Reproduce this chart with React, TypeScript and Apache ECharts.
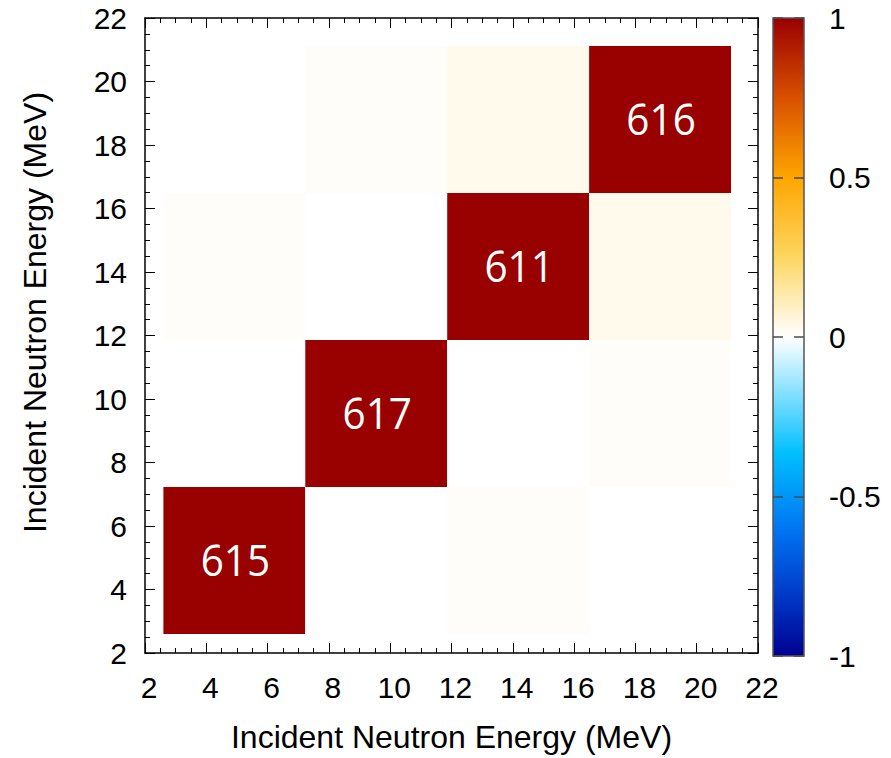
import React, { useEffect, useRef } from 'react';
import * as echarts from 'echarts';

// Energy bin edges (MeV), shared by both axes
const binEdges = [2.6, 7.23, 11.86, 16.49, 21.12];

// Correlation coefficients; rows are y bins (bottom to top), columns are x bins
const correlation = [
  [1, 0, 0.01, 0],
  [0, 1, 0, 0.01],
  [0.01, 0, 1, 0.03],
  [0, 0.01, 0.03, 1],
];

// Counts written on the diagonal cells
const diagonalCounts = [615, 617, 611, 616];

// Axis ranges
const energyRange = [2, 22];
const energyStep = 2;
const colorbarRange = [-1, 1];
const colorbarStep = 0.5;

// Diverging palette: value -> colour
const paletteStops: [number, string][] = [
  [-1, '#000090'],
  [-0.84, '#0030c0'],
  [-0.62, '#0070f0'],
  [-0.365, '#00bfff'],
  [0, '#ffffff'],
  [0.25, '#fdd660'],
  [0.5, '#ffa500'],
  [0.75, '#d85000'],
  [1, '#990000'],
];

const FONT = '"Liberation Sans", Arial, Helvetica, sans-serif';

function hexToRgb(h: string) {
  const n = parseInt(h.slice(1), 16);
  return [(n >> 16) & 255, (n >> 8) & 255, n & 255];
}

function colorAt(v: number) {
  const s = paletteStops;
  if (v <= s[0][0]) return s[0][1];
  if (v >= s[s.length - 1][0]) return s[s.length - 1][1];
  for (let i = 0; i < s.length - 1; i++) {
    const [v0, c0] = s[i];
    const [v1, c1] = s[i + 1];
    if (v >= v0 && v <= v1) {
      const t = (v - v0) / (v1 - v0);
      const a = hexToRgb(c0);
      const b = hexToRgb(c1);
      const m = a.map((x, k) => Math.round(x + (b[k] - x) * t));
      return `rgb(${m[0]},${m[1]},${m[2]})`;
    }
  }
  return '#ffffff';
}

export default function App() {
  const ref = useRef<HTMLDivElement>(null);

  useEffect(() => {
    if (!ref.current) return;
    const chart = echarts.init(ref.current, null, { renderer: 'svg' });

    const cells: any[] = [];
    const cellLabels: string[] = [];
    for (let r = 0; r < correlation.length; r++) {
      for (let c = 0; c < correlation[r].length; c++) {
        cells.push([binEdges[c], binEdges[c + 1], binEdges[r], binEdges[r + 1], correlation[r][c]]);
        cellLabels.push(r === c ? String(diagonalCounts[r]) : '');
      }
    }

    const frameAxis = (position: string, showLabel: boolean) => ({
      type: 'value',
      gridIndex: 0,
      position,
      min: energyRange[0],
      max: energyRange[1],
      interval: energyStep,
      axisLine: { show: true, onZero: false, lineStyle: { color: '#000', width: 1.5 } },
      axisTick: { show: true, inside: true, length: 10, lineStyle: { color: '#000', width: 1 } },
      minorTick: { show: true, splitNumber: 4, length: 5, lineStyle: { color: '#000', width: 1 } },
      splitLine: { show: false },
      axisLabel: { show: showLabel, color: '#000', fontSize: 30, fontFamily: FONT },
    });

    const gradientStops = paletteStops
      .map(([v, c]) => ({ offset: (colorbarRange[1] - v) / (colorbarRange[1] - colorbarRange[0]), color: c }))
      .sort((a, b) => a.offset - b.offset);

    chart.setOption({
      animation: false,
      backgroundColor: '#fff',
      grid: [
        { left: 145, top: 18, width: 613, height: 638 },
        { left: 773, top: 18, width: 31, height: 638 },
      ],
      xAxis: [
        {
          ...frameAxis('bottom', true),
          axisLabel: { show: true, color: '#000', fontSize: 30, fontFamily: FONT, margin: 19, padding: [0, 0, 0, 8] },
          name: 'Incident Neutron Energy (MeV)',
          nameLocation: 'middle',
          nameGap: 68,
          nameTextStyle: { color: '#000', fontSize: 32, fontFamily: FONT },
        },
        frameAxis('top', false),
        { type: 'value', gridIndex: 1, min: 0, max: 1, show: false },
      ],
      yAxis: [
        {
          ...frameAxis('left', true),
          axisLabel: { show: true, color: '#000', fontSize: 30, fontFamily: FONT, margin: 18, padding: [5, 0, 0, 0] },
          name: 'Incident Neutron Energy (MeV)',
          nameLocation: 'middle',
          nameRotate: 90,
          nameGap: 94,
          nameTextStyle: { color: '#000', fontSize: 32, fontFamily: FONT, padding: [0, 0, 0, 46] },
        },
        frameAxis('right', false),
        {
          type: 'value',
          gridIndex: 1,
          position: 'right',
          min: colorbarRange[0],
          max: colorbarRange[1],
          interval: colorbarStep,
          z: 5,
          axisLine: { show: false },
          axisTick: { show: false },
          splitLine: { show: true, lineStyle: { color: '#4a4a4a', width: 1.5, type: [10, 11] } },
          axisLabel: { color: '#000', fontSize: 30, fontFamily: FONT, margin: 25, align: 'left' },
        },
      ],
      series: [
        {
          type: 'custom',
          xAxisIndex: 0,
          yAxisIndex: 0,
          data: cells,
          encode: { x: [0, 1], y: [2, 3] },
          renderItem: (params: any, api: any) => {
            const p0 = api.coord([api.value(0), api.value(2)]);
            const p1 = api.coord([api.value(1), api.value(3)]);
            const v = api.value(4);
            const x = p0[0];
            const y = p1[1];
            const w = p1[0] - p0[0];
            const h = p0[1] - p1[1];
            const children: any[] = [
              { type: 'rect', shape: { x, y, width: w, height: h }, style: { fill: colorAt(v) } },
            ];
            const label = cellLabels[params.dataIndex];
            if (label) {
              children.push({
                type: 'text',
                x: x + w / 2 + 1,
                y: y + h / 2 - 2,
                scaleX: 0.92,
                style: {
                  text: label,
                  fill: '#fff',
                  fontSize: 44,
                  fontFamily: '"Open Sans", "Noto Sans", sans-serif',
                  align: 'center',
                  verticalAlign: 'middle',
                },
              });
            }
            return { type: 'group', children };
          },
        },
        {
          type: 'custom',
          xAxisIndex: 2,
          yAxisIndex: 2,
          data: [[0, 1, colorbarRange[0], colorbarRange[1]]],
          encode: { x: [0, 1], y: [2, 3] },
          renderItem: (params: any, api: any) => {
            const p0 = api.coord([api.value(0), api.value(2)]);
            const p1 = api.coord([api.value(1), api.value(3)]);
            return {
              type: 'rect',
              shape: { x: p0[0], y: p1[1], width: p1[0] - p0[0], height: p0[1] - p1[1] },
              style: {
                fill: new echarts.graphic.LinearGradient(0, 0, 0, 1, gradientStops),
                stroke: '#555',
                lineWidth: 1.5,
              },
            };
          },
        },
      ],
    });

    return () => chart.dispose();
  }, []);

  return (
    <div
      ref={ref}
      style={{ position: 'absolute', left: 0, top: 0, width: 891, height: 758 }}
    />
  );
}
